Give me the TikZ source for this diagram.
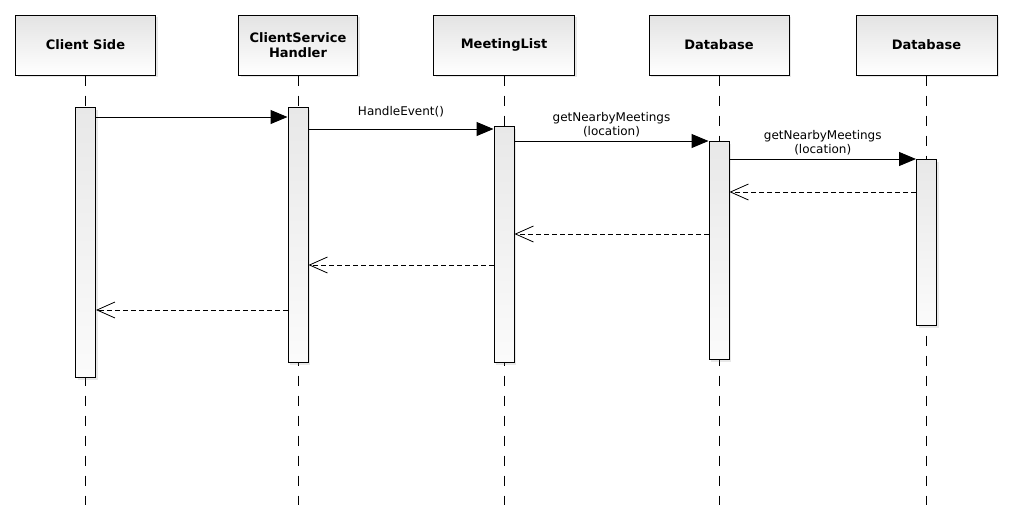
\documentclass[tikz,border=0pt]{standalone}
\usepackage{fontspec}
\setmainfont{DejaVu Sans}
\usetikzlibrary{arrows.meta,shadows}

\tikzset{
  head/.style={draw,line width=1pt,top color=gray!22,bottom color=white,
    drop shadow={opacity=0.18,shadow xshift=2pt,shadow yshift=-2pt},
    minimum height=60pt,inner sep=0pt,align=center,
    font=\fontsize{13}{15.5}\selectfont\bfseries},
  bar/.style={draw,line width=1pt,top color=gray!18,bottom color=gray!3,
    drop shadow={opacity=0.18,shadow xshift=2pt,shadow yshift=-2pt},
    minimum width=20pt,inner sep=0pt,anchor=north},
  life/.style={line width=1pt,dash pattern=on 10pt off 10pt},
  call/.style={line width=1pt,-{Triangle[length=17pt,width=14pt]}},
  reply/.style={line width=0.8pt,dash pattern=on 5pt off 3pt,
    -{Straight Barb[length=18pt,width=16pt,line width=0.8pt]}},
  msg/.style={inner sep=0pt,align=center,font=\fontsize{12}{14}\selectfont}
}

\begin{document}
\begin{tikzpicture}[x=1pt,y=-1pt]
  \fill[white] (0,0) rectangle (1012,531);
  \useasboundingbox (0,0) rectangle (1012,531);

  % Heads
  \node[head,minimum width=140pt] (cs) at (85.5,45) {Client Side};
  \node[head,minimum width=119pt] (ch) at (298,45) {ClientService\\Handler};
  \node[head,minimum width=141pt] (ml) at (504,45) {MeetingList};
  \node[head,minimum width=140pt] (db) at (719,45) {Database};
  \node[head,minimum width=141pt] (dbb) at (926.5,45) {Database};

  % Lifelines
  \foreach \n in {cs,ch,ml,db,dbb}
    \draw[life] (\n.south) -- (\n.south |- 0,505);

  % Activation bars
  \node[bar,minimum height=270pt] (csbar) at (cs.south |- 0,107) {};
  \node[bar,minimum height=255pt] (chbar) at (ch.south |- 0,107) {};
  \node[bar,minimum height=236pt] (mlbar) at (ml.south |- 0,126) {};
  \node[bar,minimum height=218pt] (dbbar) at (db.south |- 0,141) {};
  \node[bar,minimum height=166pt] (dbbbar) at (dbb.south |- 0,159) {};

  % Calls
  \draw[call] (csbar.east |- 0,117) -- (chbar.west |- 0,117);
  \draw[call] (chbar.east |- 0,129) -- (mlbar.west |- 0,129)
    node[msg,midway,above=11pt] (m1) {HandleEvent()};
  \draw[call] (mlbar.east |- 0,141) -- (dbbar.west |- 0,141)
    node[msg,midway,above=3pt] (m2) {getNearbyMeetings\\(location)};
  \draw[call] (dbbar.east |- 0,159) -- (dbbbar.west |- 0,159)
    node[msg,midway,above=3pt] (m3) {getNearbyMeetings\\(location)};

  % Replies
  \draw[reply] (dbbbar.west |- 0,192) -- (dbbar.east |- 0,192);
  \draw[reply] (dbbar.west |- 0,234) -- (mlbar.east |- 0,234);
  \draw[reply] (mlbar.west |- 0,265) -- (chbar.east |- 0,265);
  \draw[reply] (chbar.west |- 0,310) -- (csbar.east |- 0,310);
\end{tikzpicture}
\end{document}
